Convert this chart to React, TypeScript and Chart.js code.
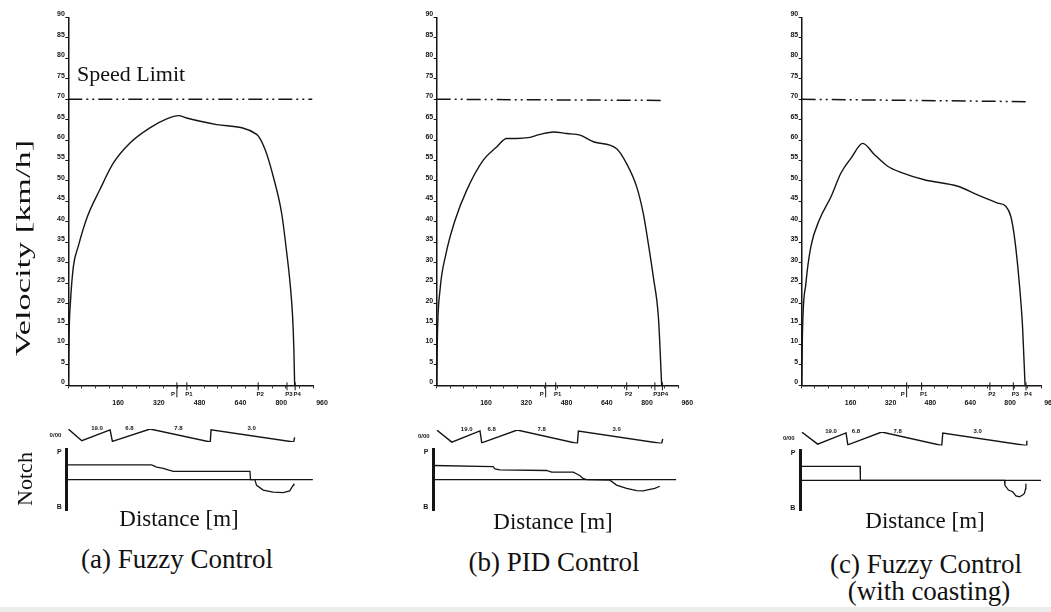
import React, { useEffect, useRef } from "react";
import { Chart, registerables } from "chart.js";

Chart.register(...registerables);

const INK = "#151515";
const SERIF = '"Liberation Serif", "Times New Roman", Times, serif';
const SANS = '"Liberation Sans", Arial, sans-serif';

// ---------- axis ticks ----------
const xMinorTicks = Array.from({ length: 19 }, (_, i) => (i * 160) / 3);
const xTickLabels = ["160", "320", "480", "640", "800", "960"];
const yTickStep = 5;
const notchTickLabels = ["B", "P"];
const markerLabels = ["P", "P1", "P2", "P3", "P4"];
const gradLabels = ["19.0", "6.8", "7.8", "3.0"];

// ---------- (a) Fuzzy Control ----------
const distA = [0, 3, 9, 20, 39, 75, 124, 177, 242, 320, 386, 432, 464, 582, 739, 772, 804, 837, 857, 870, 880, 885, 888];
const velA = [0, 12.7, 20.9, 29.1, 34, 41.3, 47.9, 54.4, 59.3, 63, 65.2, 66, 65.4, 63.8, 61.4, 57.7, 51.1, 42.1, 32.4, 25, 16.8, 8.7, 0];
const limitA = [70, 70];
const markerDistA = [426, 465, 745, 858, 890];
const gradDistA = [0, 53, 164, 173, 321, 557, 560, 884, 888];
const gradLabelDistA = [113, 240, 432, 719];
const notchDistA = [-6, 327, 347, 373, 392, 412, 713, 715, 732, 739, 765, 804, 843, 869, 882, 885];
const notchValA = [0.53, 0.53, 0.45, 0.41, 0.35, 0.3, 0.3, 0, 0, -0.21, -0.38, -0.45, -0.47, -0.41, -0.21, -0.14];

// ---------- (b) PID Control ----------
const distB = [0, 3, 13, 37, 73, 119, 185, 238, 278, 318, 364, 411, 464, 517, 570, 623, 715, 755, 795, 821, 841, 861, 881, 894];
const velB = [0, 12.6, 23.2, 32.2, 40.4, 47.7, 55.1, 58.3, 60.4, 60.4, 60.6, 61.4, 62, 61.6, 61.2, 59.6, 57.9, 54.2, 48.5, 42, 34.6, 26.4, 16.6, 0];
const limitB = [70, 69.7];
const markerDistB = [433, 473, 755, 867, 897];
const gradDistB = [0, 60, 172, 179, 320, 559, 563, 894, 898];
const gradLabelDistB = [119, 218, 417, 715];
const notchDistB = [-13, 225, 232, 251, 437, 457, 543, 569, 582, 596, 689, 715, 755, 795, 821, 848, 867, 887];
const notchValB = [0.51, 0.47, 0.39, 0.35, 0.33, 0.27, 0.27, 0.15, 0.04, 0, -0.02, -0.2, -0.32, -0.4, -0.41, -0.35, -0.32, -0.24];

// ---------- (c) Fuzzy Control with coasting ----------
const distC = [0, 3, 17, 37, 71, 118, 158, 198, 245, 291, 345, 398, 492, 626, 706, 786, 819, 839, 855, 873, 886, 896];
const velC = [0, 12.7, 25, 34, 40.5, 46.2, 52, 55.6, 59.2, 56.5, 53.6, 52.1, 50.3, 48.7, 46.6, 44.6, 43.8, 41.3, 35.6, 25, 14.3, 0];
const limitC = [70, 69.4];
const markerDistC = [421, 481, 755, 849, 900];
const gradDistC = [0, 64, 178, 185, 321, 562, 566, 900, 903];
const gradLabelDistC = [118, 218, 385, 706];
const notchDistC = [-6, 234, 235, 813, 815, 829, 846, 859, 873, 886, 893, 898, 899];
const notchValC = [0.51, 0.51, 0, 0, -0.18, -0.35, -0.41, -0.56, -0.59, -0.53, -0.47, -0.3, -0.12];

// gradient profile level (relative), shared shape
const gradLevel = [1.0, 0.1, 0.93, 0.05, 1.0, 0.0, 0.93, 0.0, 0.35];

const PANELS = [
  { dist: distA, vel: velA, limit: limitA, limitEnd: 957, markers: markerDistA, gradDist: gradDistA, gradLabelDist: gradLabelDistA, notchDist: notchDistA, notchVal: notchValA, zeroEnd: 960 },
  { dist: distB, vel: velB, limit: limitB, limitEnd: 900, markers: markerDistB, gradDist: gradDistB, gradLabelDist: gradLabelDistB, notchDist: notchDistB, notchVal: notchValB, zeroEnd: 952 },
  { dist: distC, vel: velC, limit: limitC, limitEnd: 910, markers: markerDistC, gradDist: gradDistC, gradLabelDist: gradLabelDistC, notchDist: notchDistC, notchVal: notchValC, zeroEnd: 960 },
];

// ---------- layout (pixels) ----------
const LAYOUT = [
  { L: 68.3, R: 313, gTop: 429, gBot: 442, nX: 66.7, nTop: 448, nBot: 510, nMin: -6 },
  { L: 436.7, R: 678.3, gTop: 430, gBot: 443.5, nX: 433.3, nTop: 448, nBot: 510, nMin: -13 },
  { L: 801.7, R: 1041, gTop: 432, gBot: 445.5, nX: 800.3, nTop: 450, nBot: 512, nMin: -6 },
];
const V_TOP = 17.5;
const V_BOT = 385.3;
const V_H = 412;
const Y_W = 24;
const X_H = 20;
const G_TOP = 412;
const G_H = 40;
const N_TOP = 440;
const N_H = 80;
const N_YW = 12;

const zip = (xs: number[], ys: number[]) => xs.map((x, i) => ({ x, y: ys[i] }));
const tickFont = { family: SANS, size: 7, weight: "bold" as const };

function velocityBox(p: number) {
  const { L, R } = LAYOUT[p];
  const x = Math.floor(L - 60);
  const w = Math.ceil(R + 30 - x);
  return { x, y: 0, w, h: V_H, pad: { left: L - x - Y_W, right: x + w - R, top: V_TOP, bottom: V_H - V_BOT - X_H } };
}

function velocityConfig(p: number, pad: any): any {
  const P = PANELS[p];
  const markerPlugin = {
    id: "pmarkers" + p,
    afterDatasetsDraw(chart: any) {
      const { ctx } = chart;
      const xs = chart.scales.x;
      const ys = chart.scales.y;
      const y0 = ys.getPixelForValue(0);
      ctx.save();
      ctx.strokeStyle = INK;
      ctx.fillStyle = INK;
      ctx.lineWidth = 1;
      ctx.font = `bold 6px ${SANS}`;
      ctx.textBaseline = "middle";
      P.markers.forEach((d: number, i: number) => {
        const px = xs.getPixelForValue(d);
        ctx.beginPath();
        ctx.moveTo(px, y0 - 3);
        ctx.lineTo(px, y0 + (i === 0 ? 12 : 5));
        ctx.stroke();
        if (i === 0) {
          ctx.textAlign = "right";
          ctx.fillText(markerLabels[i], px - 2, y0 + 9);
        } else {
          ctx.textAlign = "center";
          ctx.fillText(markerLabels[i], px + 2, y0 + 9);
        }
      });
      ctx.restore();
    },
  };
  return {
    type: "line",
    data: {
      datasets: [
        {
          data: zip(P.dist, P.vel),
          borderColor: INK,
          borderWidth: 1.4,
          pointRadius: 0,
          cubicInterpolationMode: "monotone",
          fill: false,
        },
        {
          data: [
            { x: 0, y: P.limit[0] },
            { x: P.limitEnd, y: P.limit[1] },
          ],
          borderColor: INK,
          borderWidth: 1.5,
          borderDash: [14, 4, 2, 4, 2, 4],
          pointRadius: 0,
          fill: false,
        },
      ],
    },
    options: {
      responsive: false,
      animation: false,
      events: [],
      layout: { padding: pad },
      plugins: { legend: { display: false }, tooltip: { enabled: false }, title: { display: false } },
      scales: {
        x: {
          type: "linear",
          min: 0,
          max: 960,
          afterBuildTicks: (s: any) => {
            s.ticks = xMinorTicks.map((v) => ({ value: v }));
          },
          afterFit: (s: any) => {
            s.height = X_H;
          },
          grid: { drawOnChartArea: false, drawTicks: true, tickLength: 3, color: INK, lineWidth: 1 },
          border: { display: true, color: INK, width: 1.5 },
          ticks: {
            autoSkip: false,
            maxRotation: 0,
            minRotation: 0,
            labelOffset: 9,
            padding: 11,
            color: INK,
            font: tickFont,
            callback: (v: any) => {
              const lab = xTickLabels.find((t) => Math.abs(Number(t) - Number(v)) < 0.5);
              return lab || "";
            },
          },
        },
        y: {
          type: "linear",
          min: 0,
          max: 90,
          afterFit: (s: any) => {
            s.width = Y_W;
          },
          grid: { drawOnChartArea: false, drawTicks: true, tickLength: 3, color: INK, lineWidth: 1 },
          border: { display: true, color: INK, width: 1.5 },
          ticks: {
            stepSize: yTickStep,
            autoSkip: false,
            padding: 0.5,
            labelOffset: -3,
            color: INK,
            font: tickFont,
          },
        },
      },
    },
    plugins: [markerPlugin],
  };
}

function gradBox(p: number) {
  const { L, R, gTop, gBot } = LAYOUT[p];
  const x = Math.floor(L - 60);
  const w = Math.ceil(R + 10 - x);
  return { x, y: G_TOP, w, h: G_H, pad: { left: L - x, right: x + w - R, top: gTop - G_TOP, bottom: G_TOP + G_H - gBot } };
}

function gradConfig(p: number, pad: any): any {
  const P = PANELS[p];
  const labelPlugin = {
    id: "glabels" + p,
    afterDatasetsDraw(chart: any) {
      const { ctx, chartArea } = chart;
      const xs = chart.scales.x;
      const ys = chart.scales.y;
      ctx.save();
      ctx.fillStyle = INK;
      ctx.font = `bold 6px ${SANS}`;
      ctx.textAlign = "center";
      ctx.textBaseline = "middle";
      const yTop = ys.getPixelForValue(1);
      P.gradLabelDist.forEach((d: number, i: number) => {
        ctx.fillText(gradLabels[i], xs.getPixelForValue(d), yTop - 1);
      });
      ctx.textAlign = "right";
      ctx.fillText("0/00", chartArea.left - 7, (chartArea.top + chartArea.bottom) / 2);
      ctx.restore();
    },
  };
  return {
    type: "line",
    data: {
      datasets: [
        {
          data: zip(P.gradDist, gradLevel),
          borderColor: INK,
          borderWidth: 1.4,
          pointRadius: 0,
          tension: 0,
          fill: false,
        },
      ],
    },
    options: {
      responsive: false,
      animation: false,
      events: [],
      layout: { padding: pad },
      plugins: { legend: { display: false }, tooltip: { enabled: false } },
      scales: {
        x: { type: "linear", display: false, min: 0, max: 960 },
        y: { type: "linear", display: false, min: 0, max: 1 },
      },
    },
    plugins: [labelPlugin],
  };
}

function notchBox(p: number) {
  const { L, R, nX, nTop, nBot, nMin } = LAYOUT[p];
  const nRight = nX + (960 - nMin) * ((R - L) / 960);
  const x = Math.floor(nX - 40);
  const w = Math.ceil(nRight + 10 - x);
  return { x, y: N_TOP, w, h: N_H, pad: { left: nX - x - N_YW, right: x + w - nRight, top: nTop - N_TOP, bottom: N_TOP + N_H - nBot } };
}

function notchConfig(p: number, pad: any): any {
  const P = PANELS[p];
  const { nMin } = LAYOUT[p];
  return {
    type: "line",
    data: {
      datasets: [
        {
          data: zip(P.notchDist, P.notchVal),
          borderColor: INK,
          borderWidth: 1.3,
          pointRadius: 0,
          tension: 0,
          fill: false,
        },
        {
          data: [
            { x: nMin, y: 0 },
            { x: P.zeroEnd, y: 0 },
          ],
          borderColor: INK,
          borderWidth: 1.3,
          pointRadius: 0,
          fill: false,
        },
      ],
    },
    options: {
      responsive: false,
      animation: false,
      events: [],
      layout: { padding: pad },
      plugins: { legend: { display: false }, tooltip: { enabled: false } },
      scales: {
        x: { type: "linear", display: false, min: nMin, max: 960 },
        y: {
          type: "linear",
          min: -1.1,
          max: 1.1,
          afterBuildTicks: (s: any) => {
            s.ticks = [{ value: -1 }, { value: 1 }];
          },
          afterFit: (s: any) => {
            s.width = N_YW;
          },
          grid: { drawOnChartArea: false, drawTicks: false },
          border: { display: true, color: INK, width: 3 },
          ticks: {
            autoSkip: false,
            padding: 5,
            color: INK,
            font: tickFont,
            callback: (v: any) => (Number(v) > 0 ? notchTickLabels[1] : notchTickLabels[0]),
          },
        },
      },
    },
  };
}

function ChartBox({ box, build }: { box: any; build: (pad: any) => any }) {
  const ref = useRef<HTMLCanvasElement | null>(null);
  useEffect(() => {
    if (!ref.current) return;
    const chart = new Chart(ref.current, build(box.pad));
    return () => chart.destroy();
  }, []);
  return (
    <canvas
      ref={ref}
      width={box.w}
      height={box.h}
      style={{ position: "absolute", left: box.x, top: box.y, width: box.w, height: box.h, display: "block" }}
    />
  );
}

function Label({ x, y, size, text, transform = "", align = "center" }: any) {
  const tr = align === "center" ? `translate(-50%, -50%) ${transform}` : `translate(0, -50%) ${transform}`;
  return (
    <div
      style={{
        position: "absolute",
        left: x,
        top: y,
        transform: tr,
        fontFamily: SERIF,
        fontSize: size,
        lineHeight: 1,
        whiteSpace: "nowrap",
        color: "#111",
      }}
    >
      {text}
    </div>
  );
}

export default function App() {
  return (
    <div
      style={{
        position: "fixed",
        left: 0,
        top: 0,
        width: 1051,
        height: 612,
        overflow: "hidden",
        background: "#ffffff",
      }}
    >
      {[0, 1, 2].map((p) => (
        <React.Fragment key={p}>
          <ChartBox box={velocityBox(p)} build={(pad) => velocityConfig(p, pad)} />
          <ChartBox box={gradBox(p)} build={(pad) => gradConfig(p, pad)} />
          <ChartBox box={notchBox(p)} build={(pad) => notchConfig(p, pad)} />
        </React.Fragment>
      ))}

      <Label x={23} y={248} size={22} text="Velocity [km/h]" transform="rotate(-90deg) scaleX(1.56)" />
      <Label x={25} y={479} size={22} text="Notch" transform="rotate(-90deg)" />
      <Label x={77} y={74} size={22} text="Speed Limit" align="left" />

      <Label x={179} y={518} size={23} text="Distance [m]" />
      <Label x={553} y={520.5} size={23} text="Distance [m]" />
      <Label x={925} y={520} size={23} text="Distance [m]" />

      <Label x={177} y={559} size={27} text="(a) Fuzzy Control" />
      <Label x={554} y={561.5} size={27} text="(b) PID Control" />
      <Label x={926} y={564} size={27} text="(c) Fuzzy Control" />
      <Label x={929} y={591} size={27} text="(with coasting)" />

      <div style={{ position: "absolute", left: 0, top: 607, width: 1051, height: 5, background: "#ececec" }} />
    </div>
  );
}
